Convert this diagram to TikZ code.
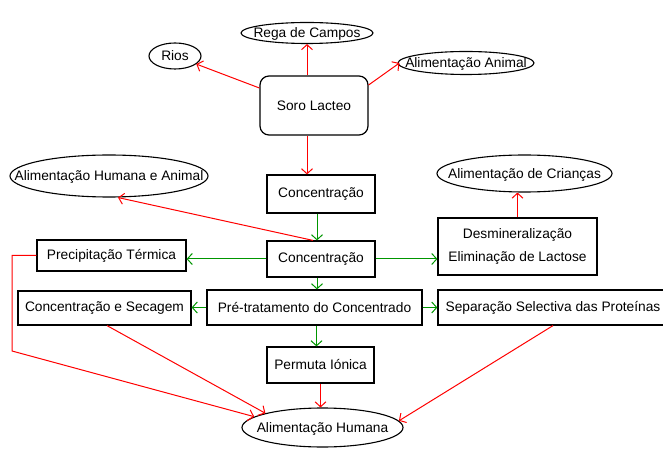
\documentclass[tikz,border=0pt]{standalone}
\usepackage{fontspec}
\setmainfont{Liberation Sans}
\usetikzlibrary{shapes.geometric,arrows.meta}
\definecolor{myred}{RGB}{255,0,0}
\definecolor{mygreen}{RGB}{0,150,0}
\newcommand{\etext}[1]{\raisebox{-0.36em}[0pt][0pt]{\makebox[0pt]{#1}}}
\tikzset{
  every node/.style={font=\fontsize{13.8}{23}\selectfont, inner sep=0pt},
  box/.style={draw=black, line width=1.2bp, rectangle, align=center},
  soro/.style={draw=black, line width=1.2bp, rectangle, rounded corners=9bp},
  ell/.style={draw=black, line width=1.1bp, ellipse},
  redarr/.style={draw=myred, line width=1bp, -{Straight Barb[length=5bp,width=11bp]}},
  redline/.style={draw=myred, line width=1bp},
  greenarr/.style={draw=mygreen, line width=1bp, -{Straight Barb[length=5bp,width=11bp]}},
}
\begin{document}
\begin{tikzpicture}[x=1bp, y=-1bp]
\useasboundingbox (0,0) rectangle (663,451);
\fill[white] (0,0) rectangle (663,451);

% ellipses
\node[ell, minimum width=52bp, minimum height=26bp] (rios) at (175,56) {\etext{Rios}};
\node[ell, minimum width=132bp, minimum height=21bp] (rega) at (307,33) {\etext{Rega de Campos}};
\node[ell, minimum width=136bp, minimum height=23bp] (aa) at (466,63) {\etext{Alimentação Animal}};
\node[ell, minimum width=198bp, minimum height=42bp] (aha) at (109,176) {\etext{Alimentação Humana e Animal}};
\node[ell, minimum width=175bp, minimum height=37bp] (cri) at (524.5,173.5) {\etext{Alimentação de Crianças}};
\node[ell, minimum width=161bp, minimum height=39bp] (ah) at (322.5,427.5) {\etext{Alimentação Humana}};

% boxes
\node[soro, minimum width=108bp, minimum height=59bp] (soro) at (314,105.5) {Soro Lacteo};
\node[box, minimum width=108bp, minimum height=38bp] (conc1) at (321,194) {Concentração};
\node[box, minimum width=108bp, minimum height=36bp] (conc2) at (321,259) {Concentração};
\node[box, minimum width=149bp, minimum height=31bp] (precip) at (111.5,255.5) {Precipitação Térmica};
\node[box, minimum width=159bp, minimum height=57bp] (desm) at (517.5,246.5) {Desmineralização\\Eliminação de Lactose};
\node[box, minimum width=173bp, minimum height=34bp] (ces) at (104.5,308) {Concentração e Secagem};
\node[box, minimum width=215bp, minimum height=35bp] (pre) at (314.5,307.5) {Pré-tratamento do Concentrado};
\node[box, minimum width=230bp, minimum height=35bp] (sep) at (553,307.5) {Separação Selectiva das Proteínas};
\node[box, minimum width=107bp, minimum height=36bp] (perm) at (320.5,365) {Permuta Iónica};

\coordinate (bend) at (12,351);

% red connectors
\draw[redarr] ([yshift=17.5bp]soro.west) -- (rios);
\draw[redarr] (soro.north -| rega.south) -- (rega.south);
\draw[redarr] ([yshift=20.5bp]soro.east) -- ([xshift=2bp]aa.west);
\draw[redarr] (soro.south -| rega.south) -- (conc1.north -| rega.south);
\draw[redarr] ([xshift=-8bp]conc2.north) -- ([xshift=9bp]aha.south);
\draw[redarr] (desm.north) -- (desm.north |- cri.south);
\draw[redarr] (precip.west) -| (bend) -- (ah.171);
\draw[redarr] ([xshift=2.5bp]ces.south) -- (ah.166);
\draw[redarr] (perm.south) -- (perm.south |- ah.north);
\draw[redarr] (sep.south) -- (ah.5);

% green connectors
\draw[greenarr] ([xshift=-4bp]conc1.south) -- ([xshift=-4bp]conc2.north);
\draw[greenarr] (conc2.west) -- (precip.east |- conc2.west);
\draw[greenarr] (conc2.east) -- (desm.west |- conc2.east);
\draw[greenarr] ([xshift=-4bp]conc2.south) -- ([xshift=-4bp]conc2.south |- pre.north);
\draw[greenarr] (pre.west) -- (ces.east |- pre.west);
\draw[greenarr] (pre.east) -- (sep.west |- pre.east);
\draw[greenarr] ([xshift=-4bp]perm.north |- pre.south) -- ([xshift=-4bp]perm.north);
\end{tikzpicture}
\end{document}
